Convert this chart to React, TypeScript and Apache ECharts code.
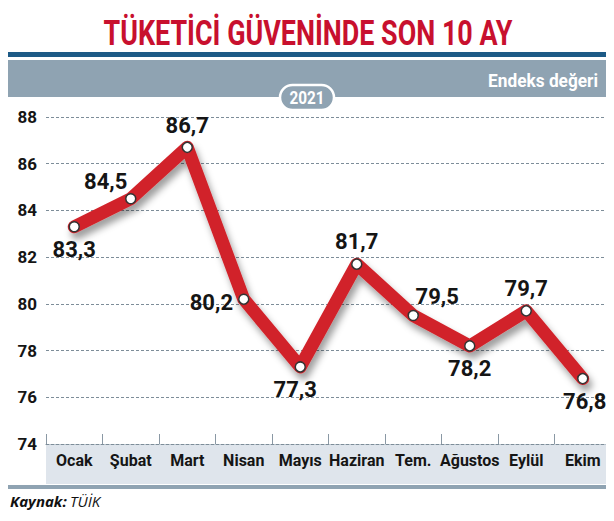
import { useEffect, useRef } from "react";
import * as echarts from "echarts";

// aylar ve endeks değerleri (2021)
const months = ["Ocak", "Şubat", "Mart", "Nisan", "Mayıs", "Haziran", "Tem.", "Ağustos", "Eylül", "Ekim"];
const values = [83.3, 84.5, 86.7, 80.2, 77.3, 81.7, 79.5, 78.2, 79.7, 76.8];
const yMin = 74;
const yMax = 88;
const yStep = 2;

// etiket yerleşimi: [konum, offsetX, offsetY]
const labelPlace: [string, number, number][] = [
  ["bottom", 0, 0],
  ["top", -25, 5],
  ["top", 0, 0],
  ["left", 0, 3],
  ["bottom", -5, 0],
  ["top", 0, 0],
  ["top", 24, 3],
  ["bottom", 0, 0],
  ["top", 0, 0],
  ["bottom", 2, 1],
];

const FONT = "Roboto, 'Liberation Sans', sans-serif";
const RED = "#d1232a";
const DARK_BLUE = "#1d5a86";
const GRAY_BLUE = "#8fa3b2";

const fmt = (v: number) => v.toFixed(1).replace(".", ",");

// metni hedef genişliğe sığdırmak için ölçek
function fitScale(text: string, font: string, target: number) {
  const ctx = document.createElement("canvas").getContext("2d");
  if (!ctx) return 1;
  ctx.font = font;
  const w = ctx.measureText(text).width;
  return w > 0 ? target / w : 1;
}

export default function App() {
  const chartRef = useRef<HTMLDivElement>(null);

  useEffect(() => {
    if (!chartRef.current) return;
    const chart = echarts.init(chartRef.current, null, { renderer: "svg" });

    const title = "TÜKETİCİ GÜVENİNDE SON 10 AY";
    const titleFont = `bold 35px ${FONT}`;
    const unitText = "Endeks değeri";
    const unitFont = `bold 19px ${FONT}`;

    const seriesData = values.map((v, i) => ({
      value: v,
      label: {
        position: labelPlace[i][0],
        offset: [labelPlace[i][1], labelPlace[i][2]],
      },
    }));

    chart.setOption({
      animation: false,
      backgroundColor: "#ffffff",
      grid: { left: 46, right: 3, top: 117, bottom: 77, containLabel: false },
      graphic: [
        {
          type: "text",
          x: 308,
          y: 33,
          scaleX: fitScale(title, titleFont, 409),
          style: {
            text: title,
            fill: "#c8102e",
            font: titleFont,
            align: "center",
            verticalAlign: "middle",
          },
        },
        { type: "rect", shape: { x: 6, y: 52, width: 608, height: 5 }, style: { fill: DARK_BLUE } },
        { type: "rect", shape: { x: 6, y: 60, width: 608, height: 37 }, style: { fill: GRAY_BLUE } },
        {
          type: "text",
          x: 598,
          y: 80,
          scaleX: fitScale(unitText, unitFont, 110),
          style: {
            text: unitText,
            fill: "#ffffff",
            font: unitFont,
            align: "right",
            verticalAlign: "middle",
          },
        },
        {
          type: "rect",
          shape: { x: 280, y: 85, width: 54, height: 25, r: 12.5 },
          style: { fill: GRAY_BLUE, stroke: "#ffffff", lineWidth: 2.5 },
        },
        {
          type: "text",
          x: 307,
          y: 98,
          scaleX: 0.85,
          style: {
            text: "2021",
            fill: "#ffffff",
            font: `bold 18px ${FONT}`,
            align: "center",
            verticalAlign: "middle",
          },
        },
        {
          type: "rect",
          z: -10,
          shape: { x: 46, y: 444, width: 565, height: 40 },
          style: { fill: "#dfe5ec" },
        },
        { type: "rect", shape: { x: 6, y: 485, width: 608, height: 4 }, style: { fill: GRAY_BLUE } },
        {
          type: "text",
          x: 10,
          y: 501,
          style: {
            text: "{b|Kaynak:} {i|TÜİK}",
            verticalAlign: "middle",
            rich: {
              b: { font: "italic bold 15px 'Open Sans', sans-serif", fill: "#111" },
              i: { font: "italic 15px 'Open Sans', sans-serif", fill: "#111" },
            },
          },
        },
        { type: "rect", shape: { x: 6, y: 513, width: 608, height: 5 }, style: { fill: DARK_BLUE } },
      ],
      xAxis: {
        type: "category",
        data: months,
        boundaryGap: true,
        axisLine: { show: true, lineStyle: { color: "#7d8d99", type: [3, 2], width: 1 } },
        axisTick: { show: true, inside: true, length: 10, lineStyle: { color: "#8a98a4" } },
        axisLabel: {
          interval: 0,
          margin: 8,
          color: "#151515",
          fontFamily: FONT,
          fontWeight: "bold",
          fontSize: 16,
        },
        splitLine: { show: false },
      },
      yAxis: {
        type: "value",
        min: yMin,
        max: yMax,
        interval: yStep,
        axisLine: { show: false },
        axisTick: { show: false },
        axisLabel: {
          margin: 9,
          color: "#151515",
          fontFamily: FONT,
          fontWeight: "bold",
          fontSize: 17,
        },
        splitLine: { show: true, lineStyle: { color: "#7d8d99", type: [3, 2], width: 1 } },
      },
      series: [
        {
          type: "line",
          data: seriesData,
          symbol: "circle",
          symbolSize: 10,
          itemStyle: { color: "#ffffff", borderColor: "#333333", borderWidth: 1.5 },
          lineStyle: {
            color: RED,
            width: 13,
            join: "round",
            cap: "round",
            shadowColor: "rgba(0,0,0,0.38)",
            shadowBlur: 7,
            shadowOffsetX: 3,
            shadowOffsetY: 6,
          },
          label: {
            show: true,
            distance: 5,
            formatter: (p: any) => fmt(p.value),
            color: "#151515",
            fontFamily: FONT,
            fontWeight: "bold",
            fontSize: 22,
            lineHeight: 23,
          },
          emphasis: { disabled: true },
        },
      ],
    });

    return () => chart.dispose();
  }, []);

  return <div ref={chartRef} style={{ width: 614, height: 521, margin: -8 }} />;
}
